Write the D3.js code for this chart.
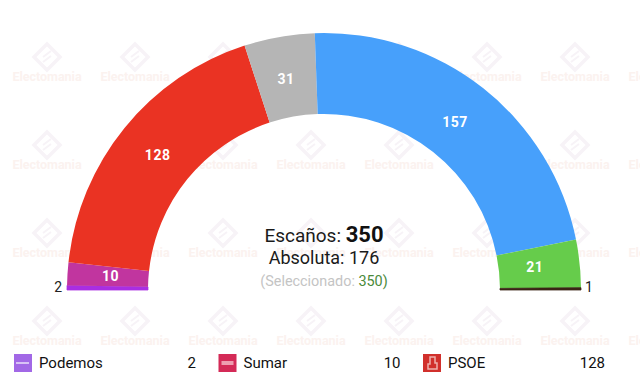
<!DOCTYPE html>
<html>
<head>
<meta charset="utf-8">
<script src="https://cdn.jsdelivr.net/npm/d3@7"></script>
<style>
  html, body { margin: 0; padding: 0; background: #fff; }
  svg { display: block; }
  text { font-family: Roboto, sans-serif; }
</style>
</head>
<body>
<div id="chart"></div>
<script>
// seats, left to right along the hemicycle
const parties = ["Podemos", "Sumar", "PSOE", "Otros", "PP", "Vox", "SALF"];
const seats = [2, 10, 128, 31, 157, 21, 1];
const colors = ["#a92ee2", "#c1359f", "#ea3323", "#b5b5b5", "#47a0fb", "#66cc4b", "#3a2415"];

const legendNames = ["Podemos", "Sumar", "PSOE"];
const legendSeats = [2, 10, 128];
const legendColors = ["#a268e6", "#d42a57", "#d1302c"];

const totalSeats = 350;
const majority = 176;

const width = 640, height = 384;
const cx = 324, cy = 290;

const svg = d3.select("#chart").append("svg")
    .attr("width", width)
    .attr("height", height);

// watermark grid, sits under everything
const markX = d3.range(47, 700, 88);
const markY = d3.range(77, 400, 88);
const wm = svg.append("g");
markY.forEach(function(y) {
    markX.forEach(function(x) {
        const m = wm.append("g").attr("transform", "translate(" + x + "," + y + ")");
        m.append("path")
            .attr("d", "M0,-33L13,-20L0,-7L-13,-20Z")
            .attr("fill", "none")
            .attr("stroke", "#f7f3f7")
            .attr("stroke-width", 3.5);
        m.append("path")
            .attr("d", "M-4,-20L4,-26M-4,-15L4,-21")
            .attr("stroke", "#f7f3f7")
            .attr("stroke-width", 2);
        m.append("text")
            .attr("y", 4)
            .attr("text-anchor", "middle")
            .attr("font-size", 12.5)
            .attr("font-weight", 700)
            .attr("fill", "#fbf2ef")
            .text("Electomania");
    });
});

const angle = d3.scaleLinear()
    .domain([0, totalSeats])
    .range([-Math.PI / 2, Math.PI / 2]);

const arc = d3.arc()
    .innerRadius(176)
    .outerRadius(257);

// labels sit a bit nearer the middle than the centroid
const labelArc = d3.arc()
    .innerRadius(170)
    .outerRadius(256);

// cumulative start of every block
const starts = d3.cumsum([0].concat(seats.slice(0, -1)));
const blocks = seats.map(function(d, i) {
    return {
        name: parties[i],
        value: d,
        color: colors[i],
        startAngle: angle(starts[i]),
        endAngle: angle(starts[i] + d)
    };
});

const hemi = svg.append("g").attr("transform", "translate(" + cx + "," + cy + ")");

hemi.selectAll("path")
    .data(blocks)
    .join("path")
    .attr("d", arc)
    .attr("fill", function(d) { return d.color; })
    .attr("stroke", function(d) { return d.value < 5 ? d.color : "none"; })
    .attr("stroke-width", 0.8);

// labels inside the big blocks
hemi.selectAll("text.inner")
    .data(blocks.filter(function(d) { return d.value >= 5; }))
    .join("text")
    .attr("class", "inner")
    .attr("transform", function(d) { return "translate(" + labelArc.centroid(d) + ")"; })
    .attr("dx", -1)
    .attr("dy", "0.3em")
    .attr("text-anchor", "middle")
    .attr("font-size", 14)
    .attr("font-weight", 700)
    .attr("fill", "#fff")
    .style("letter-spacing", "0.5px")
    .text(function(d) { return d.value; });

// tiny blocks get their number outside the ring
hemi.selectAll("text.outer")
    .data(blocks.filter(function(d) { return d.value < 5; }))
    .join("text")
    .attr("class", "outer")
    .attr("x", function(d) { return d.startAngle < 0 ? -262 : 261; })
    .attr("y", -3)
    .attr("dy", "0.36em")
    .attr("text-anchor", function(d) { return d.startAngle < 0 ? "end" : "start"; })
    .attr("font-size", 14)
    .attr("fill", "#222")
    .text(function(d) { return d.value; });

// centre text
const line1 = svg.append("text")
    .attr("x", cx)
    .attr("y", 242)
    .attr("text-anchor", "middle")
    .attr("font-size", 19)
    .attr("fill", "#1a1a1a");
line1.append("tspan").text("Escaños: ");
line1.append("tspan").attr("font-size", 22).attr("font-weight", 700).attr("fill", "#111").text(totalSeats);

svg.append("text")
    .attr("x", cx)
    .attr("y", 264)
    .attr("text-anchor", "middle")
    .attr("font-size", 18)
    .attr("fill", "#1a1a1a")
    .text("Absoluta: " + majority);

const line3 = svg.append("text")
    .attr("x", cx)
    .attr("y", 286)
    .attr("text-anchor", "middle")
    .attr("font-size", 14.4)
    .attr("fill", "#c4c4c4");
line3.append("tspan").text("(Seleccionado: ");
line3.append("tspan").attr("fill", "#4b8a3a").text(totalSeats);
line3.append("tspan").attr("fill", "#4b8a3a").text(")");

// legend row
const legendX = d3.scalePoint()
    .domain(legendNames)
    .range([14, 423]);

const legend = svg.selectAll("g.legend")
    .data(legendNames)
    .join("g")
    .attr("class", "legend")
    .attr("transform", function(d) { return "translate(" + legendX(d) + ",354)"; });

legend.append("rect")
    .attr("width", 18)
    .attr("height", 18)
    .attr("fill", function(d, i) { return legendColors[i]; });

// little logos inside the squares
legend.filter(function(d) { return d === "Podemos"; }).append("rect")
    .attr("x", 2).attr("y", 8).attr("width", 13).attr("height", 2).attr("fill", "#d8c2f5");
legend.filter(function(d) { return d === "Sumar"; }).append("rect")
    .attr("x", 3).attr("y", 7).attr("width", 12).attr("height", 4).attr("fill", "#ee9db0");
legend.filter(function(d) { return d === "PSOE"; }).append("path")
    .attr("d", "M7,3H12V9H14V15H5V10H7Z")
    .attr("fill", "none")
    .attr("stroke", "#eeb0ac")
    .attr("stroke-width", 1.5);

legend.append("text")
    .attr("x", 25)
    .attr("y", 14)
    .attr("font-size", 15)
    .attr("fill", "#111")
    .text(function(d) { return d; });

legend.append("text")
    .attr("x", 182)
    .attr("y", 14)
    .attr("text-anchor", "end")
    .attr("font-size", 15)
    .attr("fill", "#111")
    .text(function(d, i) { return legendSeats[i]; });
</script>
</body>
</html>
